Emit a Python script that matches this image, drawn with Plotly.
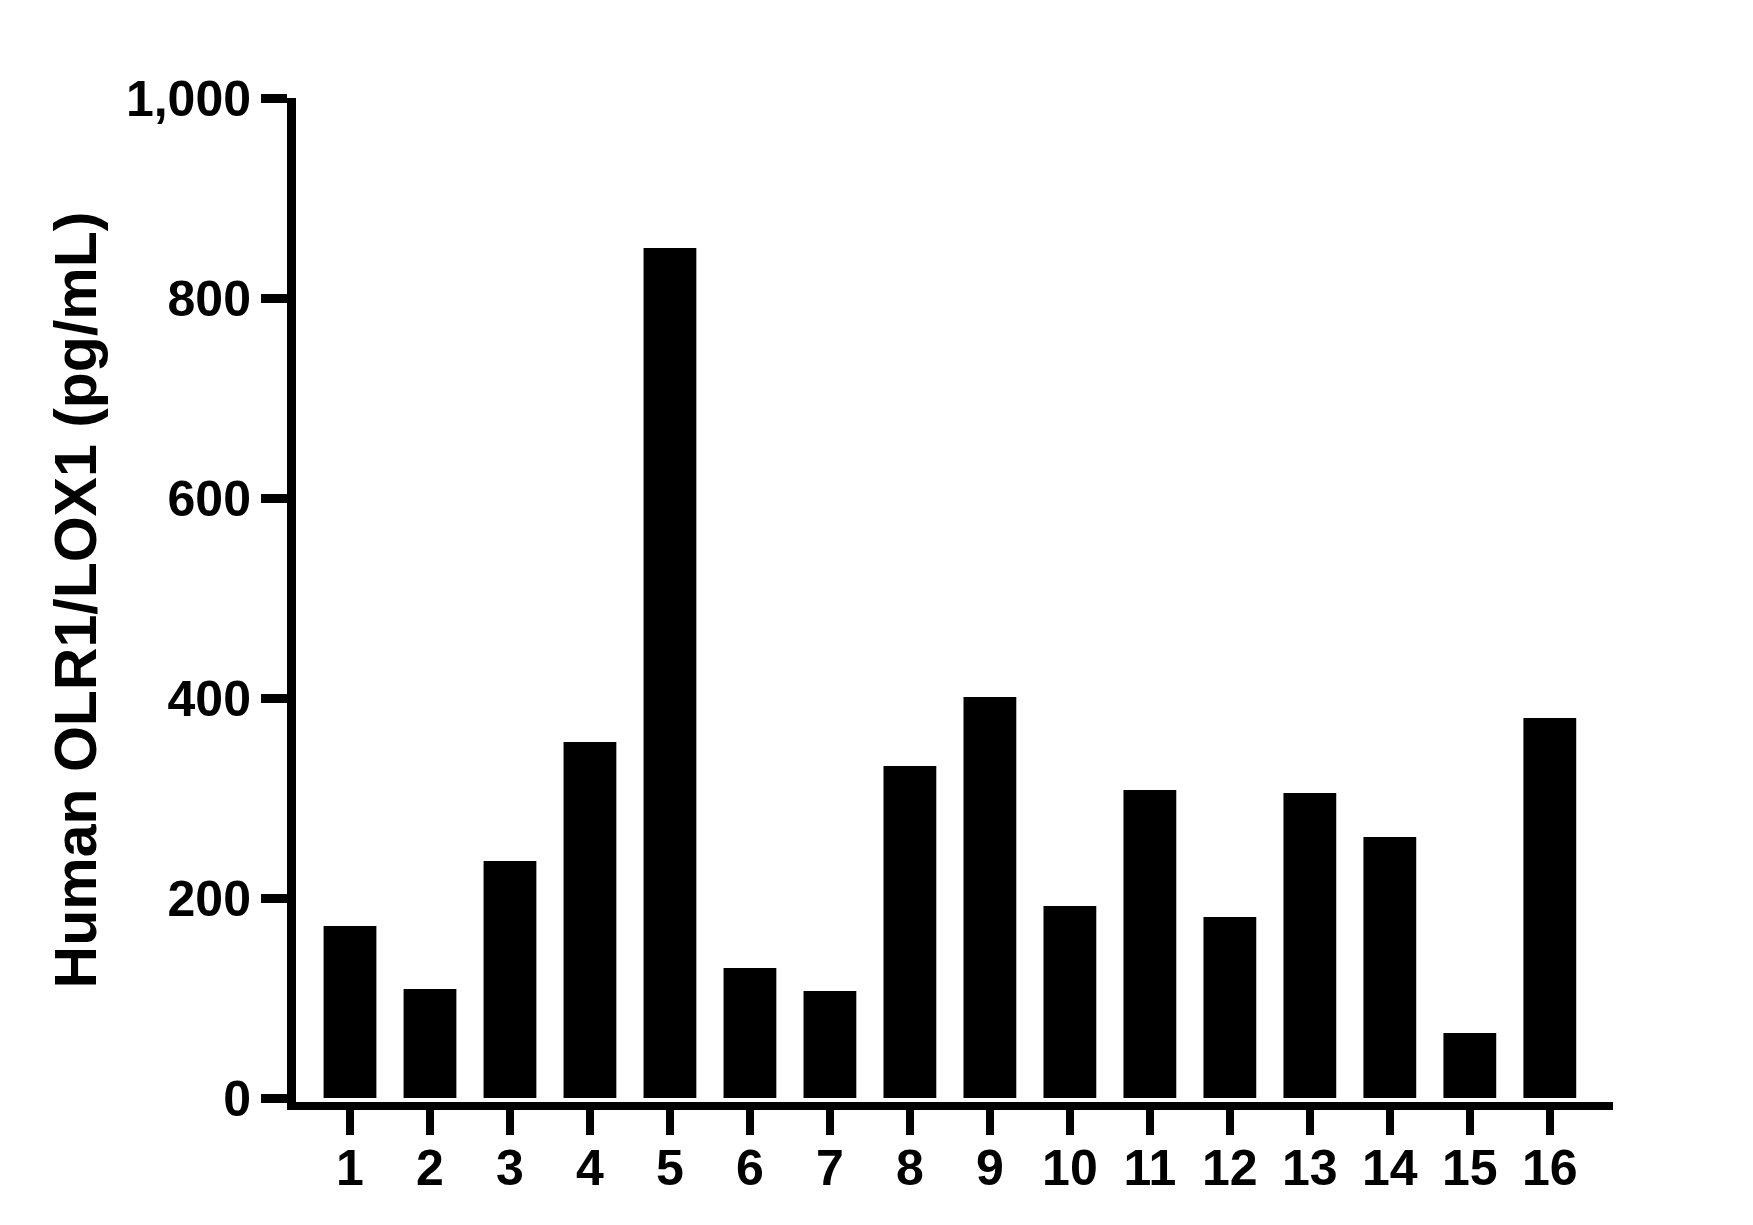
import plotly.graph_objects as go

# sample numbers and measured concentrations
samples = [str(i) for i in range(1, 17)]
olr1 = [172, 109, 237, 356, 850, 130, 107, 332, 401, 192, 308, 181, 305, 261, 65, 380]

y_ticks = [0, 200, 400, 600, 800, 1000]

fig = go.Figure()
fig.add_trace(go.Bar(
    x=list(range(1, 17)), y=olr1,
    marker=dict(color='black', line=dict(width=0)),
    width=0.66,
))

font = 'Liberation Sans, Arial, sans-serif'

fig.update_layout(
    width=1753, height=1225,
    margin=dict(l=288, r=148, t=90, b=131),
    plot_bgcolor='white', paper_bgcolor='white',
    showlegend=False,
    font=dict(family=font, color='black', size=50),
    xaxis=dict(
        range=[0.325, 16.79],
        tickmode='array', tickvals=list(range(1, 17)), ticktext=samples,
        showline=True, linecolor='black', linewidth=8,
        ticks='outside', ticklen=25, tickwidth=8, tickcolor='black',
        ticklabelstandoff=-10,
        showgrid=False, zeroline=False,
        tickfont=dict(family=font, size=50, color='black', weight='bold'),
    ),
    yaxis=dict(
        range=[-4, 1000],
        tickmode='array', tickvals=y_ticks, tickformat=',',
        showline=True, linecolor='black', linewidth=9,
        ticks='outside', ticklen=26, tickwidth=9, tickcolor='black',
        ticklabelstandoff=0,
        showgrid=False, zeroline=False,
        tickfont=dict(family=font, size=50, color='black', weight='bold'),
        title=dict(text='Human OLR1/LOX1 (pg/mL)', standoff=14,
                   font=dict(family=font, size=59, color='black', weight='bold')),
    ),
)

fig.write_html("out.html")
